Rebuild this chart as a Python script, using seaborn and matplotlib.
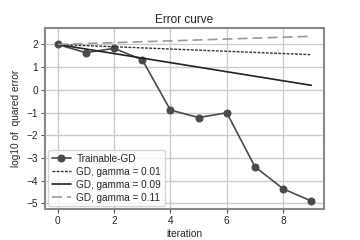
import matplotlib
matplotlib.use("Agg")
import matplotlib.pyplot as plt
import seaborn as sns
import pandas as pd

iterations = [0, 1, 2, 3, 4, 5, 6, 7, 8, 9]
trainable_gd = [2.0, 1.64, 1.83, 1.33, -0.89, -1.22, -1.01, -3.39, -4.36, -4.90]
gd_001 = [2.0, 1.95, 1.90, 1.85, 1.80, 1.75, 1.70, 1.65, 1.60, 1.55]
gd_009 = [2.0, 1.80, 1.60, 1.40, 1.20, 1.00, 0.80, 0.60, 0.40, 0.20]
gd_011 = [2.0, 2.04, 2.08, 2.12, 2.16, 2.20, 2.24, 2.28, 2.32, 2.36]

sns.set_theme(style="whitegrid")
plt.rcParams['font.family'] = ['Liberation Sans', 'DejaVu Sans']

fig, ax = plt.subplots(figsize=(3.6, 2.4), dpi=100)
fig.subplots_adjust(left=0.125, right=0.9, top=0.883, bottom=0.128)

sns.lineplot(x=iterations, y=trainable_gd, ax=ax, color="#4a4a4a", marker="o",
             markersize=5, markeredgecolor="#4a4a4a", linewidth=1.2, label="Trainable-GD")
sns.lineplot(x=iterations, y=gd_001, ax=ax, color="#333333", linestyle=(0, (2, 1)),
             linewidth=1.0, label="GD, gamma = 0.01")
sns.lineplot(x=iterations, y=gd_009, ax=ax, color="#222222", linestyle="-",
             linewidth=1.2, label="GD, gamma = 0.09")
sns.lineplot(x=iterations, y=gd_011, ax=ax, color="#999999", linestyle=(0, (6, 3)),
             linewidth=1.2, label="GD, gamma = 0.11")

ax.set_title("Error curve", fontsize=8.5, pad=4)
ax.set_xlabel("iteration", fontsize=7.3, labelpad=2)
ax.set_ylabel("log10 of  quared error", fontsize=7.3, labelpad=4)
ax.set_xticks([0, 2, 4, 6, 8])
ax.set_yticks([-5, -4, -3, -2, -1, 0, 1, 2])
ax.tick_params(axis="both", labelsize=7.3, length=3, width=0.8, color="#555555",
               pad=2, bottom=True, left=True)
for s in ax.spines.values():
    s.set_color("#888888")
    s.set_linewidth(1.5)
ax.grid(color="#cccccc", linewidth=1.0)

leg = ax.legend(loc="lower left", fontsize=7.2, frameon=True, handlelength=1.9,
                borderpad=0.35, labelspacing=0.3, handletextpad=0.6,
                borderaxespad=0.3)
leg.get_frame().set_edgecolor("#cccccc")

fig.savefig("out.png", dpi=100)
